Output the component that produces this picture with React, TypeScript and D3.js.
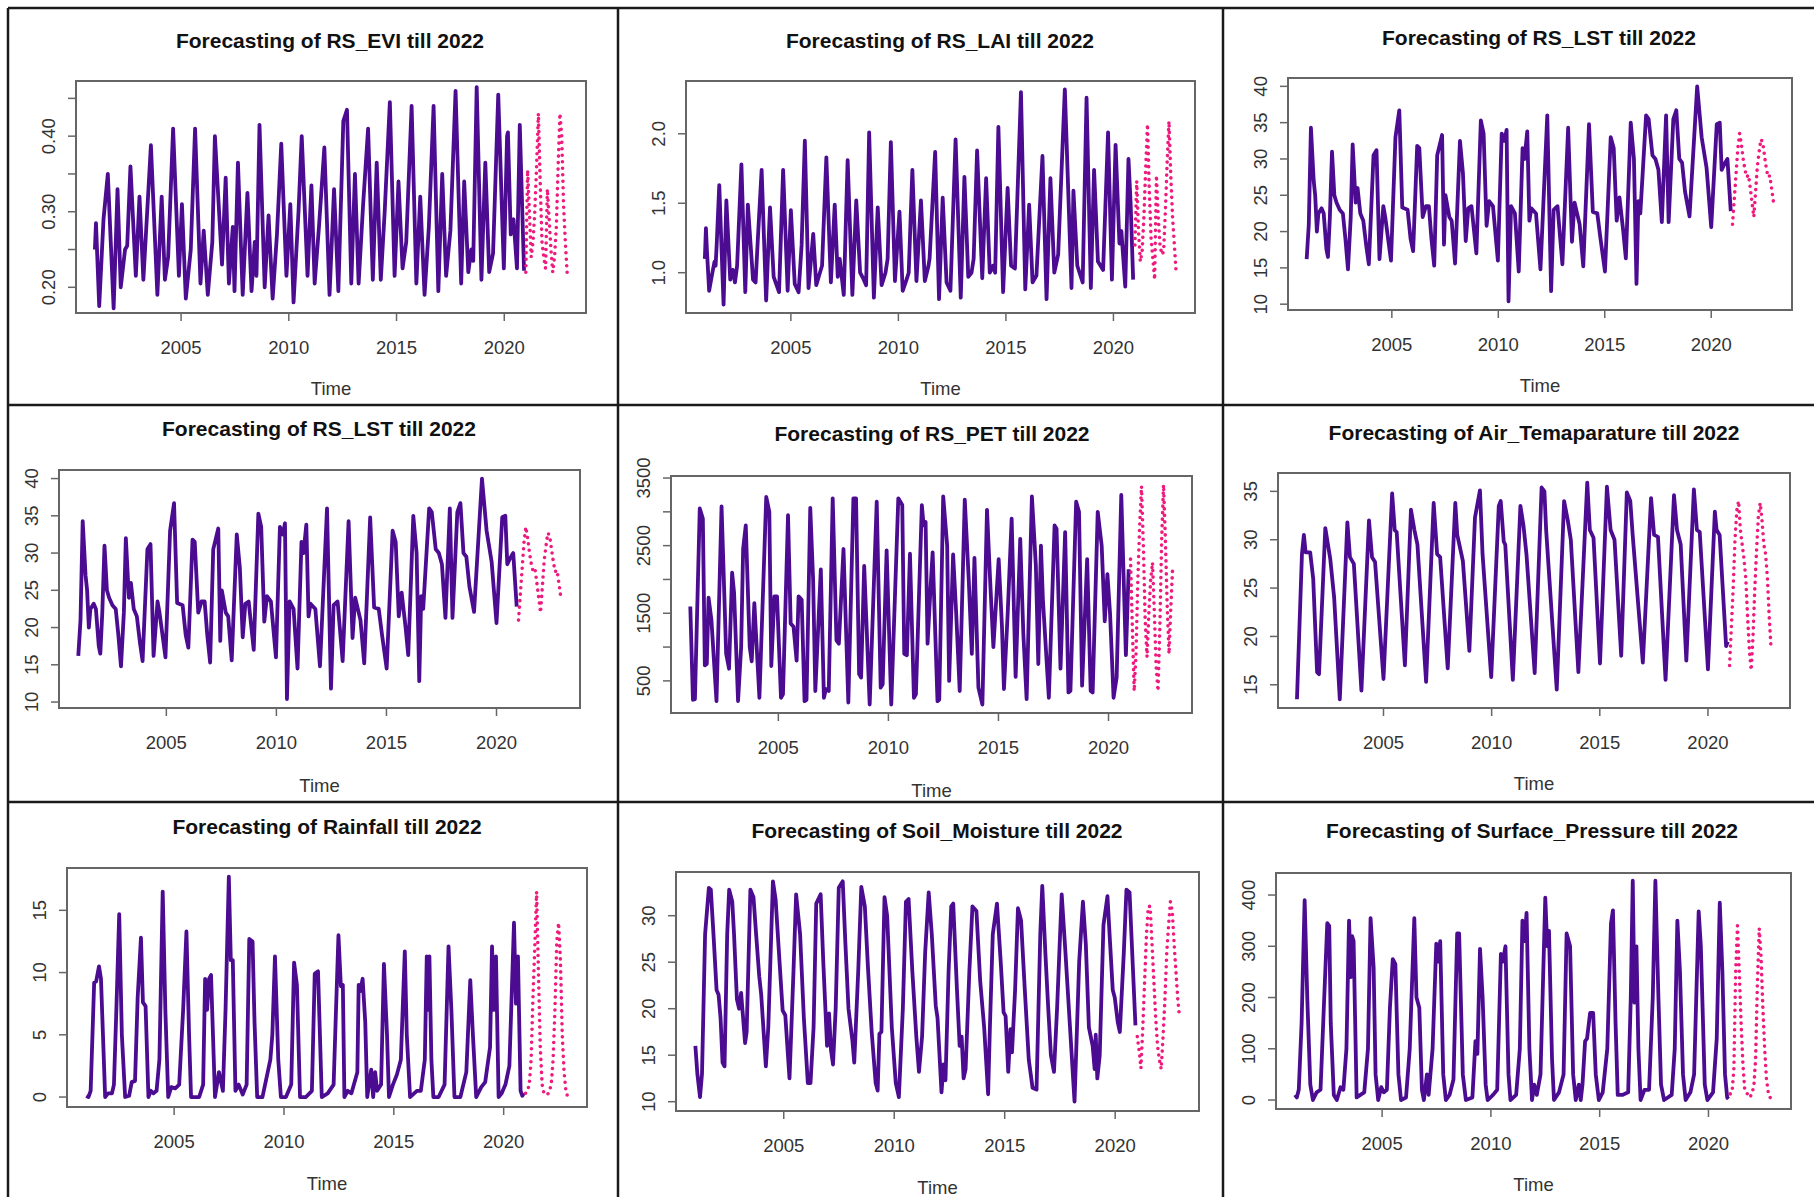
import React, { useEffect, useRef } from "react";
import * as d3 from "d3";

type Pt = [number, number];

const eviObs: Pt[] = [[2001.0,0.25],[2001.05,0.285],[2001.2,0.175],[2001.4,0.29],[2001.6,0.35],[2001.87,0.172],[2002.05,0.33],[2002.2,0.20],[2002.4,0.25],[2002.5,0.255],[2002.65,0.36],[2002.9,0.215],[2003.07,0.32],[2003.25,0.21],[2003.6,0.388],[2003.9,0.19],[2004.1,0.32],[2004.25,0.21],[2004.4,0.24],[2004.63,0.41],[2004.9,0.215],[2005.04,0.31],[2005.22,0.185],[2005.45,0.25],[2005.65,0.41],[2005.9,0.205],[2006.05,0.275],[2006.24,0.19],[2006.45,0.26],[2006.57,0.40],[2006.9,0.23],[2007.07,0.345],[2007.22,0.205],[2007.4,0.28],[2007.48,0.195],[2007.64,0.365],[2007.86,0.19],[2008.08,0.325],[2008.27,0.195],[2008.42,0.26],[2008.5,0.215],[2008.64,0.415],[2008.88,0.20],[2009.06,0.295],[2009.25,0.185],[2009.45,0.27],[2009.65,0.39],[2009.89,0.215],[2010.07,0.31],[2010.22,0.18],[2010.45,0.30],[2010.6,0.40],[2010.87,0.215],[2011.05,0.335],[2011.2,0.205],[2011.4,0.28],[2011.65,0.385],[2011.89,0.19],[2012.1,0.33],[2012.3,0.195],[2012.53,0.42],[2012.7,0.435],[2012.9,0.205],[2013.07,0.35],[2013.24,0.205],[2013.45,0.31],[2013.68,0.41],[2013.9,0.21],[2014.08,0.365],[2014.27,0.21],[2014.45,0.30],[2014.69,0.445],[2014.91,0.215],[2015.09,0.34],[2015.28,0.225],[2015.45,0.26],[2015.7,0.44],[2015.92,0.205],[2016.1,0.32],[2016.3,0.19],[2016.5,0.28],[2016.72,0.44],[2016.94,0.195],[2017.12,0.35],[2017.3,0.215],[2017.5,0.275],[2017.74,0.46],[2018.0,0.205],[2018.14,0.34],[2018.33,0.22],[2018.47,0.25],[2018.56,0.235],[2018.72,0.465],[2018.94,0.21],[2019.12,0.365],[2019.3,0.22],[2019.48,0.245],[2019.72,0.455],[2019.98,0.225],[2020.13,0.40],[2020.17,0.405],[2020.3,0.27],[2020.43,0.29],[2020.59,0.225],[2020.72,0.415],[2020.917,0.222]];

const laiObs: Pt[] = [[2001.0,1.1],[2001.05,1.32],[2001.1,1.15],[2001.2,0.87],[2001.35,1.0],[2001.45,1.08],[2001.5,1.05],[2001.55,1.2],[2001.67,1.63],[2001.87,0.77],[2002.0,1.52],[2002.18,0.95],[2002.3,1.02],[2002.4,0.93],[2002.5,1.05],[2002.7,1.78],[2002.88,0.86],[2003.0,1.49],[2003.24,0.95],[2003.36,0.93],[2003.45,1.2],[2003.64,1.74],[2003.85,0.80],[2004.03,1.47],[2004.2,0.97],[2004.45,0.86],[2004.64,1.74],[2004.85,0.87],[2005.0,1.45],[2005.18,0.92],[2005.36,0.86],[2005.5,1.2],[2005.65,1.95],[2005.82,0.89],[2006.04,1.28],[2006.18,0.91],[2006.35,1.0],[2006.45,1.05],[2006.65,1.83],[2006.86,0.93],[2007.04,1.49],[2007.18,0.97],[2007.27,1.1],[2007.46,0.84],[2007.64,1.81],[2007.86,0.84],[2008.04,1.52],[2008.22,1.0],[2008.36,0.96],[2008.5,0.91],[2008.64,2.01],[2008.86,0.82],[2009.04,1.47],[2009.22,0.91],[2009.4,1.0],[2009.5,1.1],[2009.65,1.94],[2009.84,0.94],[2010.05,1.44],[2010.2,0.87],[2010.38,0.95],[2010.48,1.0],[2010.65,1.74],[2010.84,0.94],[2011.05,1.52],[2011.23,0.94],[2011.4,1.05],[2011.45,1.1],[2011.71,1.87],[2011.89,0.81],[2012.06,1.54],[2012.24,0.93],[2012.42,0.87],[2012.66,1.96],[2012.9,0.82],[2013.07,1.69],[2013.25,0.97],[2013.4,1.0],[2013.5,1.1],[2013.66,1.88],[2013.9,0.96],[2014.08,1.68],[2014.25,1.0],[2014.4,1.05],[2014.5,1.0],[2014.65,2.05],[2014.87,0.86],[2015.08,1.61],[2015.24,1.05],[2015.42,1.03],[2015.7,2.3],[2015.9,0.88],[2016.08,1.49],[2016.24,0.93],[2016.42,0.98],[2016.7,1.84],[2016.89,0.81],[2017.07,1.68],[2017.25,1.0],[2017.43,1.13],[2017.74,2.32],[2018.05,0.89],[2018.14,1.59],[2018.32,1.05],[2018.57,0.93],[2018.75,2.26],[2018.95,0.89],[2019.1,1.74],[2019.28,1.08],[2019.52,1.02],[2019.75,2.01],[2019.93,0.95],[2020.1,1.92],[2020.28,1.21],[2020.37,1.3],[2020.55,0.90],[2020.7,1.82],[2020.8,1.5],[2020.917,0.95]];

const lstObs: Pt[] = [[2001.0,16.2],[2001.1,21],[2001.2,34.3],[2001.33,27],[2001.4,25],[2001.48,20],[2001.55,22.5],[2001.7,23.2],[2001.8,22.5],[2001.93,17.5],[2002.0,16.5],[2002.09,22],[2002.19,31],[2002.3,25],[2002.4,24],[2002.55,23],[2002.7,22.5],[2002.82,19],[2002.94,14.8],[2003.07,22],[2003.16,32],[2003.3,24],[2003.39,26],[2003.52,22.5],[2003.66,21.5],[2003.8,18],[2003.92,15.5],[2004.14,30.5],[2004.28,31.2],[2004.42,16.2],[2004.6,23.5],[2004.69,22],[2004.96,16],[2005.17,33],[2005.35,36.7],[2005.49,23.3],[2005.74,23],[2005.88,19],[2006.0,17.3],[2006.19,31.8],[2006.29,31.5],[2006.45,22],[2006.6,23.5],[2006.74,23.5],[2006.86,19],[2006.99,15.3],[2007.13,30.5],[2007.36,33.3],[2007.45,18.2],[2007.52,25],[2007.7,22],[2007.81,21.5],[2007.97,15.6],[2008.2,32.5],[2008.34,28],[2008.47,18.7],[2008.59,23.2],[2008.74,23.5],[2008.97,17],[2009.18,35.3],[2009.31,33.5],[2009.45,20.8],[2009.57,24.2],[2009.75,23.5],[2009.98,16],[2010.16,33.5],[2010.29,32.5],[2010.39,34],[2010.48,10.4],[2010.6,23.5],[2010.78,22.5],[2010.96,14.5],[2011.14,31.5],[2011.23,30],[2011.36,33.8],[2011.46,21.5],[2011.55,23.2],[2011.77,22.5],[2011.98,14.8],[2012.3,36],[2012.48,11.8],[2012.6,23],[2012.78,23.5],[2013.01,15.5],[2013.28,34.3],[2013.46,18.6],[2013.58,24],[2013.82,21],[2013.99,15.2],[2014.26,34.8],[2014.44,22.7],[2014.65,22.5],[2014.8,19],[2015.01,14.5],[2015.28,33],[2015.42,31.5],[2015.56,21.5],[2015.69,24.7],[2015.87,20],[2015.99,16.3],[2016.22,35],[2016.37,30],[2016.49,12.8],[2016.58,24.2],[2016.67,22.5],[2016.94,36],[2017.06,35.5],[2017.24,30.5],[2017.38,30],[2017.52,28.5],[2017.68,21.3],[2017.88,36],[2018.0,21.3],[2018.22,35.5],[2018.36,36.7],[2018.5,30],[2018.63,29.5],[2018.77,25.5],[2018.98,22.1],[2019.34,40],[2019.55,33],[2019.78,28.8],[2020.0,20.6],[2020.26,34.8],[2020.4,35],[2020.49,28.5],[2020.62,29.3],[2020.76,30],[2020.917,22.8]];

const petObs: Pt[] = [[2001.0,1600],[2001.12,220],[2001.21,230],[2001.43,3050],[2001.57,2900],[2001.66,730],[2001.75,750],[2001.83,1730],[2001.96,1400],[2002.19,200],[2002.42,3080],[2002.63,900],[2002.76,680],[2002.9,2100],[2002.99,1800],[2003.17,200],[2003.31,1000],[2003.4,2450],[2003.52,2800],[2003.7,1000],[2003.79,790],[2003.91,1650],[2004.14,250],[2004.45,3220],[2004.59,3000],[2004.68,720],[2004.82,1750],[2004.94,1750],[2005.12,250],[2005.21,300],[2005.44,2950],[2005.56,1350],[2005.69,1300],[2005.83,800],[2005.92,1750],[2006.06,1700],[2006.19,200],[2006.28,220],[2006.45,3060],[2006.58,2000],[2006.68,350],[2006.93,2150],[2007.07,250],[2007.16,380],[2007.29,350],[2007.47,3200],[2007.64,1100],[2007.75,1050],[2007.96,2450],[2008.18,180],[2008.41,3200],[2008.53,3200],[2008.67,600],[2008.76,550],[2008.9,2200],[2009.15,150],[2009.47,3150],[2009.65,400],[2009.74,450],[2009.92,2430],[2010.13,150],[2010.45,3200],[2010.63,3100],[2010.72,900],[2010.84,880],[2010.98,2380],[2011.16,250],[2011.25,300],[2011.52,3100],[2011.6,2800],[2011.69,2850],[2011.78,1050],[2011.91,1850],[2012.01,2400],[2012.23,200],[2012.31,220],[2012.49,3230],[2012.67,2500],[2012.76,500],[2012.94,2370],[2013.08,1500],[2013.24,350],[2013.47,3180],[2013.65,2000],[2013.79,900],[2013.91,2320],[2014.09,400],[2014.27,150],[2014.48,3030],[2014.62,2000],[2014.77,1000],[2015.01,2300],[2015.16,1300],[2015.25,380],[2015.42,1500],[2015.6,2900],[2015.78,560],[2015.99,2600],[2016.13,1200],[2016.28,230],[2016.52,3230],[2016.7,2200],[2016.81,750],[2016.93,2500],[2017.02,1700],[2017.29,250],[2017.55,2800],[2017.64,2750],[2017.82,680],[2018.03,2700],[2018.18,330],[2018.27,350],[2018.53,3150],[2018.66,3000],[2018.8,430],[2019.03,2300],[2019.19,350],[2019.28,330],[2019.51,3000],[2019.69,2500],[2019.83,1380],[2019.95,2080],[2020.07,1500],[2020.23,250],[2020.37,550],[2020.58,3250],[2020.79,880],[2020.917,2150]];

const airObs: Pt[] = [[2001.0,13.5],[2001.23,28.5],[2001.32,30.5],[2001.4,28.7],[2001.61,28.7],[2001.75,26],[2001.93,16.3],[2002.02,16.1],[2002.31,31.2],[2002.54,28],[2002.72,24],[2002.98,13.5],[2003.33,31.8],[2003.45,28.2],[2003.63,27.5],[2003.98,14.4],[2004.33,32],[2004.47,28.2],[2004.61,27.7],[2005.0,15.6],[2005.4,34.8],[2005.52,31],[2005.61,30.8],[2005.99,17],[2006.27,33.1],[2006.43,31],[2006.57,29.5],[2006.97,15.3],[2007.32,33.8],[2007.48,28.5],[2007.62,28.2],[2007.97,16.7],[2008.32,33.8],[2008.41,30.5],[2008.67,27.8],[2008.97,18.5],[2009.23,32.3],[2009.46,35.1],[2009.58,28.5],[2009.98,15.8],[2010.33,33.5],[2010.42,34],[2010.56,29.8],[2010.63,29.5],[2010.98,15.5],[2011.33,33.5],[2011.47,31.5],[2011.61,28.5],[2011.99,16.2],[2012.31,35.4],[2012.44,35],[2012.52,31],[2013.01,14.5],[2013.35,34],[2013.52,32],[2013.66,30],[2014.01,16.3],[2014.42,35.9],[2014.54,31],[2014.71,30.2],[2015.01,17.2],[2015.33,35.5],[2015.5,31],[2015.68,30],[2015.99,18],[2016.25,34.9],[2016.41,34],[2016.52,30.5],[2016.99,17.3],[2017.37,34.3],[2017.51,30.5],[2017.69,30.3],[2018.04,15.5],[2018.43,34.6],[2018.57,31],[2018.74,29.5],[2019.0,17.5],[2019.35,35.2],[2019.49,31],[2019.62,30.8],[2020.0,16.6],[2020.32,32.9],[2020.4,31],[2020.54,30.5],[2020.84,19],[2020.917,19.5]];

const rainObs: Pt[] = [[2001.0,0.1],[2001.1,0],[2001.2,0.5],[2001.36,9.2],[2001.45,9.3],[2001.58,10.5],[2001.67,9.5],[2001.76,5],[2001.86,0],[2001.99,0.3],[2002.17,0.3],[2002.26,1],[2002.37,7],[2002.5,14.7],[2002.62,5],[2002.77,0],[2002.95,0.1],[2003.07,1.2],[2003.22,1.3],[2003.34,8],[2003.49,12.8],[2003.58,7.6],[2003.7,7.3],[2003.83,0],[2003.94,0.5],[2004.06,0.3],[2004.2,0.5],[2004.33,3],[2004.48,16.5],[2004.6,7],[2004.73,0],[2004.87,0.8],[2005.05,0.7],[2005.23,1],[2005.41,7],[2005.56,13.3],[2005.68,5],[2005.77,0],[2005.95,0],[2006.14,0],[2006.32,1],[2006.41,9.5],[2006.5,7],[2006.59,9.5],[2006.68,9.8],[2006.74,6.5],[2006.86,0],[2007.04,2],[2007.22,0.5],[2007.34,7],[2007.49,17.7],[2007.58,11],[2007.67,11],[2007.79,0.5],[2007.94,1],[2008.12,0.2],[2008.3,1],[2008.42,12.7],[2008.57,12.5],[2008.66,6],[2008.78,0],[2009.02,0],[2009.38,3],[2009.47,5],[2009.59,11.3],[2009.74,3],[2009.86,0],[2010.09,0],[2010.33,1],[2010.46,10.8],[2010.59,9],[2010.73,0],[2011.0,0],[2011.27,0.5],[2011.4,9.9],[2011.55,10.1],[2011.72,0],[2011.99,0.3],[2012.26,1],[2012.35,6],[2012.48,13],[2012.59,8.9],[2012.68,9],[2012.75,0],[2012.9,0.5],[2013.07,0.3],[2013.34,2],[2013.4,9],[2013.47,8.5],[2013.58,9.5],[2013.7,6],[2013.79,0],[2013.97,2.2],[2014.06,0],[2014.15,2],[2014.24,0.5],[2014.42,1],[2014.55,10.7],[2014.69,5],[2014.78,0],[2014.96,1],[2015.14,1.8],[2015.32,3],[2015.5,11.7],[2015.59,5],[2015.74,0],[2016.05,0.5],[2016.23,0.5],[2016.41,3],[2016.5,11.3],[2016.55,7],[2016.62,11.3],[2016.71,3],[2016.8,0],[2017.04,0],[2017.31,1],[2017.49,12.1],[2017.62,7],[2017.76,0],[2018.03,0],[2018.3,2],[2018.48,9.4],[2018.6,5],[2018.75,0],[2018.98,0.8],[2019.16,1.2],[2019.38,4],[2019.47,12.1],[2019.56,7],[2019.65,11.3],[2019.77,0],[2019.91,0.3],[2020.08,1],[2020.26,2.5],[2020.38,9],[2020.47,14],[2020.56,7.5],[2020.65,11.3],[2020.77,0.5],[2020.85,0.1],[2020.917,0.3]];

const soilObs: Pt[] = [[2001.0,16],[2001.09,13],[2001.21,10.5],[2001.3,13],[2001.44,28],[2001.61,33],[2001.7,32.8],[2001.82,28],[2001.96,22],[2002.05,21.5],[2002.14,19],[2002.23,14.2],[2002.32,13.8],[2002.44,28],[2002.53,32.8],[2002.67,31.5],[2002.75,28],[2002.88,21],[2002.98,20],[2003.07,21.7],[2003.25,16.3],[2003.32,17.5],[2003.49,32.8],[2003.63,32],[2003.75,28],[2003.89,23.5],[2003.98,21.5],[2004.19,13.8],[2004.3,18],[2004.51,33.7],[2004.63,31.8],[2004.81,25],[2004.95,19.8],[2005.07,19.3],[2005.26,12.5],[2005.44,24],[2005.56,32.3],[2005.74,28],[2005.91,19],[2006.09,12],[2006.21,12],[2006.35,18],[2006.47,31.3],[2006.67,32.3],[2006.79,25],[2006.96,16],[2007.05,19.5],[2007.14,15.5],[2007.23,14],[2007.35,20],[2007.49,33],[2007.67,33.7],[2007.79,27],[2007.93,20],[2008.11,16.5],[2008.19,14.2],[2008.37,24],[2008.51,33.1],[2008.67,31],[2008.81,24.5],[2008.98,17.5],[2009.16,12],[2009.25,11.2],[2009.33,17.3],[2009.42,17.5],[2009.56,32],[2009.68,30],[2009.89,18],[2010.07,12],[2010.21,10.5],[2010.39,20],[2010.53,31.5],[2010.65,31.8],[2010.82,24],[2011.0,17],[2011.12,13.2],[2011.26,17],[2011.4,26],[2011.56,32.5],[2011.7,28],[2011.88,20.3],[2011.96,19],[2012.14,11],[2012.23,14],[2012.32,12.3],[2012.46,24],[2012.58,31],[2012.67,31.3],[2012.84,22],[2012.96,16],[2013.05,17],[2013.14,12.5],[2013.23,13.5],[2013.4,24],[2013.54,31],[2013.72,30.5],[2013.89,23],[2014.07,18],[2014.25,10.8],[2014.33,18],[2014.46,28],[2014.65,31.3],[2014.82,25],[2014.95,19.6],[2015.04,19.2],[2015.16,13.2],[2015.26,17.8],[2015.33,15.3],[2015.47,22],[2015.6,30.8],[2015.74,29.5],[2015.91,22],[2016.09,14.5],[2016.26,11.5],[2016.44,11.3],[2016.61,28],[2016.7,33.2],[2016.84,26],[2016.96,20.5],[2017.09,15],[2017.23,13.2],[2017.37,20],[2017.58,32.3],[2017.75,26],[2017.93,19],[2018.16,10],[2018.37,25],[2018.54,31.5],[2018.67,27],[2018.81,18],[2018.98,16],[2019.07,13.5],[2019.12,17.2],[2019.19,12.5],[2019.3,15],[2019.47,29],[2019.65,32.1],[2019.77,27],[2019.89,22],[2019.98,21.2],[2020.12,18.5],[2020.21,17.5],[2020.39,26],[2020.51,32.8],[2020.65,32.5],[2020.917,18.2]];

const presObs: Pt[] = [[2001.0,10],[2001.08,5],[2001.17,20],[2001.3,150],[2001.44,390],[2001.56,200],[2001.7,30],[2001.82,0],[2001.99,15],[2002.17,20],[2002.34,200],[2002.48,345],[2002.57,340],[2002.64,150],[2002.78,10],[2002.92,0],[2003.09,25],[2003.22,20],[2003.36,100],[2003.48,350],[2003.57,240],[2003.62,320],[2003.69,310],[2003.83,5],[2004.0,10],[2004.18,15],[2004.35,100],[2004.47,355],[2004.61,260],[2004.7,50],[2004.82,0],[2004.96,25],[2005.08,15],[2005.22,20],[2005.36,180],[2005.49,275],[2005.61,265],[2005.75,50],[2005.87,0],[2006.1,5],[2006.27,100],[2006.48,355],[2006.58,200],[2006.71,180],[2006.83,20],[2006.92,0],[2007.06,50],[2007.14,10],[2007.32,100],[2007.49,305],[2007.58,270],[2007.67,310],[2007.81,50],[2007.93,0],[2008.1,10],[2008.28,40],[2008.45,325],[2008.54,325],[2008.71,50],[2008.85,0],[2009.15,5],[2009.29,115],[2009.38,90],[2009.5,295],[2009.62,200],[2009.76,30],[2009.85,0],[2010.1,10],[2010.29,20],[2010.46,285],[2010.55,270],[2010.67,300],[2010.81,50],[2010.9,0],[2011.16,10],[2011.33,100],[2011.45,350],[2011.54,310],[2011.64,365],[2011.77,100],[2011.89,0],[2011.99,30],[2012.11,10],[2012.28,50],[2012.5,395],[2012.59,300],[2012.67,330],[2012.81,80],[2012.9,0],[2013.13,15],[2013.34,50],[2013.48,325],[2013.64,300],[2013.78,50],[2013.9,0],[2014.04,30],[2014.13,0],[2014.21,30],[2014.33,115],[2014.42,120],[2014.56,170],[2014.7,170],[2014.82,50],[2014.96,0],[2015.14,15],[2015.35,100],[2015.52,345],[2015.61,370],[2015.73,150],[2015.83,10],[2016.04,10],[2016.31,15],[2016.43,200],[2016.52,428],[2016.6,190],[2016.69,300],[2016.78,100],[2016.88,0],[2017.06,20],[2017.27,20],[2017.44,200],[2017.56,428],[2017.7,200],[2017.82,30],[2017.96,0],[2018.31,10],[2018.45,100],[2018.57,350],[2018.69,250],[2018.83,50],[2018.95,0],[2019.17,15],[2019.34,50],[2019.55,368],[2019.65,300],[2019.83,30],[2019.95,0],[2020.21,15],[2020.38,120],[2020.52,385],[2020.64,250],[2020.76,50],[2020.86,5],[2020.917,2]];

// monthly forecasts, Jan 2021 .. Dec 2022
const fcStart = 2021;
const eviFc = [0.22,0.355,0.30,0.24,0.26,0.30,0.36,0.43,0.34,0.26,0.24,0.225,0.33,0.29,0.25,0.22,0.24,0.28,0.36,0.43,0.40,0.31,0.26,0.22];
const laiFc = [1.2,1.66,1.3,1.08,1.15,1.4,1.75,2.07,1.6,1.25,1.1,0.95,1.7,1.4,1.2,1.13,1.15,1.45,1.8,2.09,1.7,1.4,1.2,1.0];
const lstFc = [21,24.5,28,31.5,33.5,32,30,28.5,27.5,27.8,26,24,22,25.5,29,31,32.7,32.3,30.5,28.8,27.5,27.7,26,24.2];
const petFc = [2300,1300,350,900,2000,2800,3380,2500,1400,850,1500,2000,2250,1500,700,350,1300,2600,3400,2600,1600,900,1600,2200];
const airFc = [17,21,25,30,33,34,31,29.5,28,26,22,18.5,16.5,20,25,29,32.5,33.8,32,29.5,28.5,26,22,18.8];
const rainFc = [0.3,0.5,1.0,3,8,12,16.5,10,4,1,0.3,0.2,0.2,0.5,1,3,7,12.5,14,11,5,2,0.5,0];
const soilFc = [17,15.5,13.6,18,23,28,31,31,27,23,19,16,14.5,13.5,17,21,26,29,31.5,30.5,27,24,21,19];
const presFc = [12,15,60,250,340,250,150,70,20,15,8,5,15,25,80,230,335,280,180,100,40,15,5,0];

const xTicks = [2005, 2010, 2015, 2020];

const panels = [
  { title: "Forecasting of RS_EVI till 2022", obs: eviObs, fc: eviFc, yLim: [0.166, 0.473], yTicks: [0.2, 0.25, 0.3, 0.35, 0.4, 0.45], yLabels: [0.2, 0.3, 0.4], fmt: ".2f", box: [76, 81, 586, 313], tx: 330, ty: 40, timeY: 388 },
  { title: "Forecasting of RS_LAI till 2022", obs: laiObs, fc: laiFc, yLim: [0.71, 2.38], yTicks: [1.0, 1.5, 2.0], yLabels: [1.0, 1.5, 2.0], fmt: ".1f", box: [686, 81, 1195, 313], tx: 940, ty: 40, timeY: 388 },
  { title: "Forecasting of RS_LST till 2022", obs: lstObs, fc: lstFc, yLim: [9.2, 41.15], yTicks: [10, 15, 20, 25, 30, 35, 40], yLabels: [10, 15, 20, 25, 30, 35, 40], fmt: "d", box: [1288, 78, 1792, 310], tx: 1539, ty: 37, timeY: 385 },
  { title: "Forecasting of RS_LST till 2022", obs: lstObs, fc: lstFc, yLim: [9.2, 41.15], yTicks: [10, 15, 20, 25, 30, 35, 40], yLabels: [10, 15, 20, 25, 30, 35, 40], fmt: "d", box: [59, 470, 580, 708], tx: 319, ty: 428, timeY: 785 },
  { title: "Forecasting of RS_PET till 2022", obs: petObs, fc: petFc, yLim: [25, 3530], yTicks: [500, 1000, 1500, 2000, 2500, 3000, 3500], yLabels: [500, 1500, 2500, 3500], fmt: "d", box: [671, 476, 1192, 713], tx: 932, ty: 433, timeY: 790 },
  { title: "Forecasting of Air_Temaparature till 2022", obs: airObs, fc: airFc, yLim: [12.6, 36.9], yTicks: [15, 20, 25, 30, 35], yLabels: [15, 20, 25, 30, 35], fmt: "d", box: [1278, 473, 1790, 708], tx: 1534, ty: 432, timeY: 783 },
  { title: "Forecasting of Rainfall till 2022", obs: rainObs, fc: rainFc, yLim: [-0.8, 18.4], yTicks: [0, 5, 10, 15], yLabels: [0, 5, 10, 15], fmt: "d", box: [67, 868, 587, 1107], tx: 327, ty: 826, timeY: 1183 },
  { title: "Forecasting of Soil_Moisture till 2022", obs: soilObs, fc: soilFc, yLim: [9.0, 34.7], yTicks: [10, 15, 20, 25, 30], yLabels: [10, 15, 20, 25, 30], fmt: "d", box: [676, 872, 1199, 1111], tx: 937, ty: 830, timeY: 1187 },
  { title: "Forecasting of Surface_Pressure till 2022", obs: presObs, fc: presFc, yLim: [-17.5, 443], yTicks: [0, 100, 200, 300, 400], yLabels: [0, 100, 200, 300, 400], fmt: "d", box: [1276, 873, 1791, 1109], tx: 1532, ty: 830, timeY: 1184 },
];

const W = 1814;
const H = 1197;
const FONT = "'Liberation Sans', Arial, Helvetica, sans-serif";

export default function App() {
  const ref = useRef<SVGSVGElement>(null);

  useEffect(() => {
    const svg = d3.select(ref.current);
    svg.selectAll("*").remove();

    svg.append("rect").attr("width", W).attr("height", H).attr("fill", "#fff");

    // R-style x limits: data range padded by 4%
    const t0 = 2001;
    const t1 = fcStart + 23 / 12;
    const pad = 0.04 * (t1 - t0);

    panels.forEach(p => {
      const [x0, y0, x1, y1] = p.box;
      const x = d3.scaleLinear().domain([t0 - pad, t1 + pad]).range([x0, x1]);
      const y = d3.scaleLinear().domain(p.yLim).range([y1, y0]);
      const g = svg.append("g");
      const line = d3.line<Pt>().x(d => x(d[0])).y(d => y(d[1]));

      g.append("path")
        .datum(p.obs)
        .attr("d", line)
        .attr("fill", "none")
        .attr("stroke", "#4B0C91")
        .attr("stroke-width", 3.8)
        .attr("stroke-linejoin", "round");

      const fcPts: Pt[] = p.fc.map((v, i) => [fcStart + i / 12, v]);
      g.append("path")
        .datum(fcPts)
        .attr("d", line)
        .attr("fill", "none")
        .attr("stroke", "#EE1A7E")
        .attr("stroke-width", 3.6)
        .attr("stroke-linecap", "round")
        .attr("stroke-dasharray", "0 6.5");

      g.append("rect")
        .attr("x", x0).attr("y", y0)
        .attr("width", x1 - x0).attr("height", y1 - y0)
        .attr("fill", "none")
        .attr("stroke", "#666")
        .attr("stroke-width", 2);

      // x axis
      xTicks.forEach(t => {
        g.append("line")
          .attr("x1", x(t)).attr("x2", x(t))
          .attr("y1", y1).attr("y2", y1 + 8)
          .attr("stroke", "#666").attr("stroke-width", 1.5);
        g.append("text")
          .attr("x", x(t)).attr("y", y1 + 41)
          .attr("text-anchor", "middle")
          .attr("font-family", FONT).attr("font-size", 18.5)
          .attr("fill", "#333")
          .text(t);
      });

      // y axis
      const fmt = d3.format(p.fmt);
      p.yTicks.forEach(v => {
        g.append("line")
          .attr("x1", x0 - 8).attr("x2", x0)
          .attr("y1", y(v)).attr("y2", y(v))
          .attr("stroke", "#666").attr("stroke-width", 1.5);
      });
      p.yLabels.forEach(v => {
        g.append("text")
          .attr("transform", `translate(${x0 - 21},${y(v)}) rotate(-90)`)
          .attr("text-anchor", "middle")
          .attr("font-family", FONT).attr("font-size", 18.5)
          .attr("fill", "#333")
          .text(fmt(v));
      });

      g.append("text")
        .attr("x", p.tx).attr("y", p.ty + 7.5)
        .attr("text-anchor", "middle")
        .attr("font-family", FONT).attr("font-size", 21)
        .attr("font-weight", "bold")
        .attr("fill", "#111")
        .text(p.title);

      g.append("text")
        .attr("x", (x0 + x1) / 2).attr("y", p.timeY + 6.5)
        .attr("text-anchor", "middle")
        .attr("font-family", FONT).attr("font-size", 18.5)
        .attr("fill", "#333")
        .text("Time");
    });

    // grid of panel frames
    const frame = svg.append("g").attr("stroke", "#1a1a1a").attr("stroke-width", 2.5);
    [8, 618, 1223].forEach(vx => {
      frame.append("line").attr("x1", vx).attr("x2", vx).attr("y1", 8).attr("y2", H);
    });
    [8, 405, 802].forEach(hy => {
      frame.append("line").attr("x1", 8).attr("x2", W).attr("y1", hy).attr("y2", hy);
    });
  }, []);

  return (
    <svg
      ref={ref}
      width={W}
      height={H}
      style={{ position: "absolute", left: 0, top: 0, display: "block" }}
    />
  );
}
